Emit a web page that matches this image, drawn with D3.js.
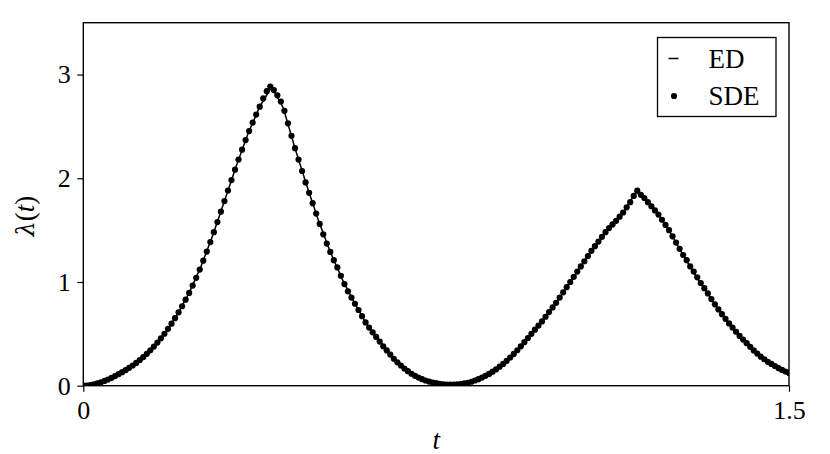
<!DOCTYPE html>
<html>
<head>
<meta charset="utf-8">
<script src="https://cdn.jsdelivr.net/npm/d3@7"></script>
<style>
  body { margin: 0; background: #fff; }
  svg { display: block; }
</style>
</head>
<body>
<script>
// exact (ED) solution, every 0.025
var edT = d3.range(0, 61).map(function (i) { return i * 0.025; });
var edLambda = [
    0.000, 0.015, 0.057, 0.111, 0.185, 0.266, 0.377, 0.517, 0.688, 0.895,
    1.148, 1.448, 1.780, 2.115, 2.430, 2.690, 2.880, 2.680, 2.290, 1.930,
    1.590, 1.290, 1.030, 0.810, 0.610, 0.455, 0.325, 0.195, 0.108, 0.054,
    0.024, 0.010, 0.016, 0.038, 0.087, 0.155, 0.240, 0.355, 0.487, 0.620,
    0.770, 0.933, 1.100, 1.267, 1.420, 1.555, 1.687, 1.870, 1.770, 1.637,
    1.460, 1.260, 1.072, 0.905, 0.735, 0.587, 0.457, 0.340, 0.247, 0.170,
    0.122
];

// SDE samples, one every 0.0075
var sdeT = d3.range(0, 201).map(function (i) { return i * 0.0075; });
var sdeLambda = [
    0.000, 0.002, 0.006, 0.013, 0.022, 0.033, 0.046, 0.060, 0.076, 0.093,
    0.111, 0.130, 0.150, 0.172, 0.195, 0.220, 0.247, 0.276, 0.307, 0.341,
    0.377, 0.416, 0.457, 0.501, 0.548, 0.598, 0.651, 0.707, 0.766, 0.829,
    0.895, 0.965, 1.040, 1.120, 1.205, 1.293, 1.385, 1.480, 1.578, 1.678,
    1.780, 1.882, 1.983, 2.083, 2.181, 2.276, 2.368, 2.455, 2.537, 2.614,
    2.690, 2.770, 2.840, 2.885, 2.850, 2.800, 2.740, 2.650, 2.530, 2.410,
    2.290, 2.180, 2.070, 1.960, 1.860, 1.760, 1.660, 1.560, 1.460, 1.370,
    1.290, 1.210, 1.140, 1.060, 0.980, 0.910, 0.850, 0.790, 0.730, 0.670,
    0.610, 0.560, 0.515, 0.470, 0.425, 0.380, 0.340, 0.300, 0.260, 0.225,
    0.195, 0.165, 0.140, 0.115, 0.095, 0.078, 0.063, 0.050, 0.040, 0.031,
    0.024, 0.018, 0.014, 0.011, 0.010, 0.010, 0.012, 0.016, 0.022, 0.028,
    0.038, 0.050, 0.063, 0.078, 0.095, 0.114, 0.135, 0.158, 0.183, 0.210,
    0.240, 0.272, 0.306, 0.342, 0.380, 0.420, 0.460, 0.500, 0.540, 0.580,
    0.620, 0.665, 0.710, 0.755, 0.800, 0.850, 0.900, 0.950, 1.000, 1.050,
    1.100, 1.150, 1.200, 1.250, 1.300, 1.345, 1.390, 1.435, 1.480, 1.520,
    1.555, 1.590, 1.630, 1.670, 1.720, 1.770, 1.830, 1.880, 1.840, 1.810,
    1.770, 1.730, 1.690, 1.650, 1.600, 1.550, 1.500, 1.440, 1.380, 1.320,
    1.260, 1.210, 1.150, 1.100, 1.045, 0.990, 0.940, 0.890, 0.835, 0.785,
    0.735, 0.690, 0.645, 0.600, 0.560, 0.520, 0.480, 0.445, 0.410, 0.375,
    0.340, 0.310, 0.280, 0.255, 0.230, 0.210, 0.190, 0.170, 0.152, 0.137,
    0.122
];

var xTicks = [0, 1.5];
var xTickLabels = ["0", "1.5"];
var yTicks = [0, 1, 2, 3];
var legendNames = ["ED", "SDE"];

var serif = "'Liberation Serif', 'DejaVu Serif', serif";

var width = 830, height = 454;
var margin = {top: 22.7, right: 41, bottom: 68.3, left: 83.3};
var plotW = width - margin.left - margin.right;
var plotH = height - margin.top - margin.bottom;

var svg = d3.select("body").append("svg")
    .attr("width", width)
    .attr("height", height);

var g = svg.append("g")
    .attr("transform", "translate(" + margin.left + "," + margin.top + ")");

var x = d3.scaleLinear().domain([0, 1.5]).range([0, plotW]);
var y = d3.scaleLinear().domain([0, 3.5]).range([plotH, 0]);

g.append("defs").append("clipPath")
    .attr("id", "plotclip")
    .append("rect")
    .attr("width", plotW)
    .attr("height", plotH);

var plot = g.append("g").attr("clip-path", "url(#plotclip)");

// ED line
var line = d3.line()
    .x(function (d, i) { return x(edT[i]); })
    .y(function (d) { return y(d); });

plot.append("path")
    .datum(edLambda)
    .attr("fill", "none")
    .attr("stroke", "#000")
    .attr("stroke-width", 1.5)
    .attr("d", line);

// SDE dots
plot.selectAll(".sde")
    .data(sdeLambda)
    .enter()
    .append("circle")
    .attr("class", "sde")
    .attr("cx", function (d, i) { return x(sdeT[i]); })
    .attr("cy", function (d) { return y(d); })
    .attr("r", 3.1)
    .attr("fill", "#000");

// axes
var xAxis = g.append("g")
    .attr("transform", "translate(0," + plotH + ")")
    .call(d3.axisBottom(x).tickValues(xTicks)
        .tickFormat(function (d, i) { return xTickLabels[i]; })
        .tickSize(6).tickPadding(9));

var yAxis = g.append("g")
    .call(d3.axisLeft(y).tickValues(yTicks)
        .tickFormat(d3.format("d"))
        .tickSize(6).tickPadding(6.6));

[xAxis, yAxis].forEach(function (a) {
    a.attr("font-family", serif).attr("font-size", 26);
    a.select(".domain").remove();
    a.selectAll(".tick line").attr("stroke", "#000").attr("stroke-width", 1.2);
    a.selectAll(".tick text").attr("fill", "#000");
});

// frame
g.append("rect")
    .attr("width", plotW)
    .attr("height", plotH)
    .attr("fill", "none")
    .attr("stroke", "#000")
    .attr("stroke-width", 1.4);

// axis labels
g.append("text")
    .attr("x", plotW / 2)
    .attr("y", plotH + 63)
    .attr("text-anchor", "middle")
    .attr("font-family", serif)
    .attr("font-size", 27)
    .attr("font-style", "italic")
    .text("t");

var ylab = g.append("text")
    .attr("transform", "translate(" + (-49) + "," + (plotH / 2 + 12) + ") rotate(-90)")
    .attr("text-anchor", "middle")
    .attr("font-family", serif)
    .attr("font-size", 27);
ylab.append("tspan")
    .attr("font-family", "'DejaVu Serif', serif")
    .attr("font-size", 24)
    .attr("font-style", "italic")
    .text("λ");
ylab.append("tspan").text("(");
ylab.append("tspan").attr("font-style", "italic").text("t");
ylab.append("tspan").text(")");

// legend
var legend = svg.append("g").attr("transform", "translate(657.5,37.5)");

legend.append("rect")
    .attr("width", 118.5)
    .attr("height", 79)
    .attr("fill", "#fff")
    .attr("stroke", "#000")
    .attr("stroke-width", 1.3);

legend.append("line")
    .attr("x1", 11).attr("x2", 21)
    .attr("y1", 21).attr("y2", 21)
    .attr("stroke", "#000")
    .attr("stroke-width", 1.5);

legend.append("circle")
    .attr("cx", 16.5).attr("cy", 58.5)
    .attr("r", 3.1)
    .attr("fill", "#000");

legend.selectAll(".lab")
    .data(legendNames)
    .enter()
    .append("text")
    .attr("class", "lab")
    .attr("x", 51)
    .attr("y", function (d, i) { return 30 + i * 37.5; })
    .attr("font-family", serif)
    .attr("font-size", 27)
    .text(function (d) { return d; });
</script>
</body>
</html>
